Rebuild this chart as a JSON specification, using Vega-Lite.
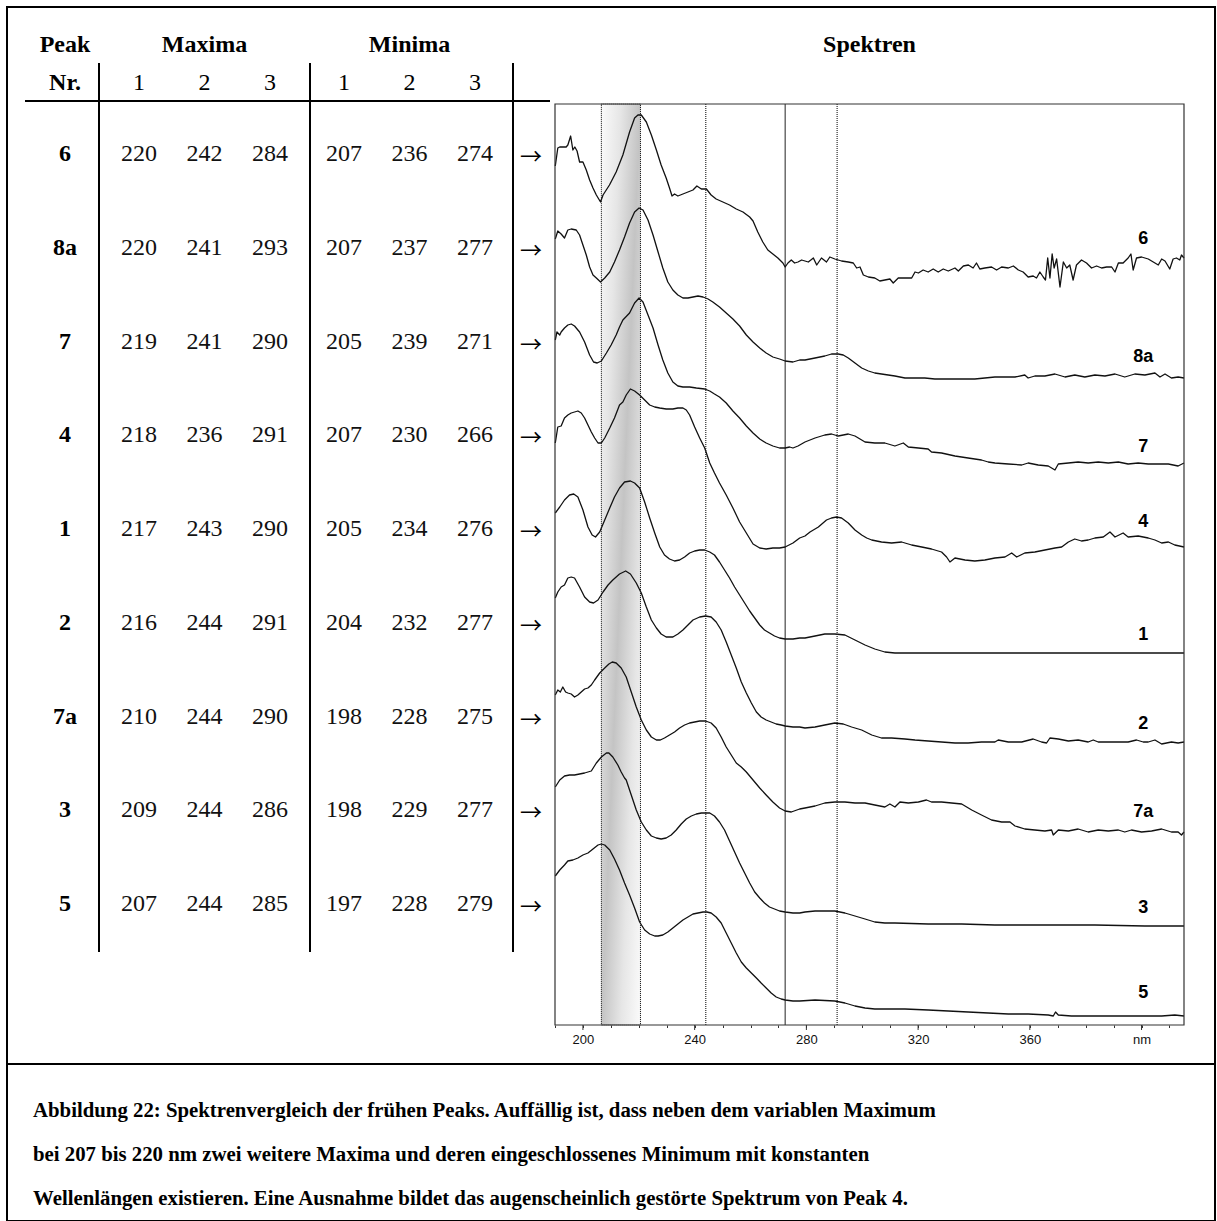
{
  "$schema": "https://vega.github.io/schema/vega-lite/v6.json",
  "width": 1208,
  "height": 1214,
  "autosize": "none",
  "padding": {"left": 7, "top": 7, "right": 2, "bottom": 0},
  "background": "white",
  "config": {"view": {"stroke": "#000", "strokeWidth": 2}, "font": "Liberation Serif"},
  "datasets": {
    "spectra": [
      {"peak":"6","nm":190.1,"A":859},{"peak":"6","nm":191.0,"A":877},{"peak":"6","nm":191.7,"A":878},{"peak":"6","nm":194.0,"A":878},{"peak":"6","nm":194.6,"A":880},{"peak":"6","nm":195.6,"A":889},{"peak":"6","nm":196.4,"A":875},{"peak":"6","nm":197.1,"A":878},{"peak":"6","nm":197.9,"A":874},{"peak":"6","nm":198.8,"A":863},{"peak":"6","nm":200.0,"A":863},{"peak":"6","nm":201.2,"A":855},{"peak":"6","nm":202.4,"A":845},{"peak":"6","nm":203.6,"A":837},{"peak":"6","nm":204.8,"A":830},{"peak":"6","nm":206.3,"A":823},{"peak":"6","nm":207.2,"A":830},{"peak":"6","nm":209.5,"A":840},{"peak":"6","nm":211.9,"A":853},{"peak":"6","nm":214.3,"A":870},{"peak":"6","nm":216.7,"A":893},{"peak":"6","nm":218.5,"A":907},{"peak":"6","nm":219.7,"A":910},{"peak":"6","nm":220.9,"A":910},{"peak":"6","nm":222.7,"A":903},{"peak":"6","nm":224.5,"A":890},{"peak":"6","nm":226.3,"A":875},{"peak":"6","nm":228.0,"A":860},{"peak":"6","nm":229.8,"A":847},{"peak":"6","nm":231.0,"A":837},{"peak":"6","nm":231.9,"A":829},{"peak":"6","nm":232.8,"A":831},{"peak":"6","nm":234.0,"A":829},{"peak":"6","nm":235.8,"A":831},{"peak":"6","nm":237.6,"A":833},{"peak":"6","nm":239.4,"A":835},{"peak":"6","nm":240.8,"A":839},{"peak":"6","nm":242.4,"A":836},{"peak":"6","nm":244.2,"A":836},{"peak":"6","nm":245.9,"A":830},{"peak":"6","nm":247.7,"A":826},{"peak":"6","nm":250.1,"A":823},{"peak":"6","nm":252.5,"A":820},{"peak":"6","nm":254.9,"A":816},{"peak":"6","nm":257.3,"A":813},{"peak":"6","nm":259.7,"A":808},{"peak":"6","nm":260.9,"A":804},{"peak":"6","nm":262.6,"A":793},{"peak":"6","nm":264.4,"A":783},{"peak":"6","nm":266.2,"A":775},{"peak":"6","nm":268.0,"A":771},{"peak":"6","nm":269.8,"A":767},{"peak":"6","nm":271.6,"A":762},{"peak":"6","nm":272.4,"A":758},{"peak":"6","nm":273.4,"A":762},{"peak":"6","nm":274.6,"A":765},{"peak":"6","nm":275.8,"A":762},{"peak":"6","nm":277.0,"A":763},
      {"peak":"6","nm":278.3,"A":765},{"peak":"6","nm":280.7,"A":763},{"peak":"6","nm":282.5,"A":767},{"peak":"6","nm":283.7,"A":760},{"peak":"6","nm":285.4,"A":767},{"peak":"6","nm":287.2,"A":763},{"peak":"6","nm":288.4,"A":768},{"peak":"6","nm":290.2,"A":766},{"peak":"6","nm":292.6,"A":764},{"peak":"6","nm":295.0,"A":763},{"peak":"6","nm":296.8,"A":762},{"peak":"6","nm":298.0,"A":757},{"peak":"6","nm":299.2,"A":758},{"peak":"6","nm":300.4,"A":750},{"peak":"6","nm":302.2,"A":748},{"peak":"6","nm":304.5,"A":747},{"peak":"6","nm":306.3,"A":744},{"peak":"6","nm":308.1,"A":745},{"peak":"6","nm":309.9,"A":746},{"peak":"6","nm":311.1,"A":742},{"peak":"6","nm":312.9,"A":747},{"peak":"6","nm":315.3,"A":747},{"peak":"6","nm":317.7,"A":747},{"peak":"6","nm":318.9,"A":753},{"peak":"6","nm":320.1,"A":752},{"peak":"6","nm":321.8,"A":755},{"peak":"6","nm":323.6,"A":753},{"peak":"6","nm":325.4,"A":756},{"peak":"6","nm":327.2,"A":753},{"peak":"6","nm":329.0,"A":756},{"peak":"6","nm":330.8,"A":754},{"peak":"6","nm":333.2,"A":757},{"peak":"6","nm":334.4,"A":754},{"peak":"6","nm":336.2,"A":759},{"peak":"6","nm":338.0,"A":760},{"peak":"6","nm":339.7,"A":757},{"peak":"6","nm":340.9,"A":762},{"peak":"6","nm":342.1,"A":756},{"peak":"6","nm":343.9,"A":757},{"peak":"6","nm":346.3,"A":758},{"peak":"6","nm":348.1,"A":755},{"peak":"6","nm":349.9,"A":758},{"peak":"6","nm":352.3,"A":757},{"peak":"6","nm":354.1,"A":759},{"peak":"6","nm":355.9,"A":755},{"peak":"6","nm":357.6,"A":753},{"peak":"6","nm":359.4,"A":748},{"peak":"6","nm":361.2,"A":749},{"peak":"6","nm":362.4,"A":747},{"peak":"6","nm":363.6,"A":753},{"peak":"6","nm":364.8,"A":748},{"peak":"6","nm":365.6,"A":745},{"peak":"6","nm":366.4,"A":767},{"peak":"6","nm":367.2,"A":747},{"peak":"6","nm":368.0,"A":771},{"peak":"6","nm":368.7,"A":757},{"peak":"6","nm":369.6,"A":766},{"peak":"6","nm":370.8,"A":738},{"peak":"6","nm":372.0,"A":763},{"peak":"6","nm":373.2,"A":757},{"peak":"6","nm":374.3,"A":760},{"peak":"6","nm":375.5,"A":745},{"peak":"6","nm":376.7,"A":760},{"peak":"6","nm":378.5,"A":765},{"peak":"6","nm":380.3,"A":762},{"peak":"6","nm":382.1,"A":757},{"peak":"6","nm":383.9,"A":759},{"peak":"6","nm":385.7,"A":757},{"peak":"6","nm":387.5,"A":758},{"peak":"6","nm":389.3,"A":758},{"peak":"6","nm":390.5,"A":753},{"peak":"6","nm":391.7,"A":762},{"peak":"6","nm":393.4,"A":762},{"peak":"6","nm":395.2,"A":767},{"peak":"6","nm":396.2,"A":771},{"peak":"6","nm":397.0,"A":755},{"peak":"6","nm":398.2,"A":767},{"peak":"6","nm":400.0,"A":768},{"peak":"6","nm":402.4,"A":766},{"peak":"6","nm":404.2,"A":763},{"peak":"6","nm":406.0,"A":760},{"peak":"6","nm":407.2,"A":766},{"peak":"6","nm":408.4,"A":764},{"peak":"6","nm":410.1,"A":756},{"peak":"6","nm":411.3,"A":766},{"peak":"6","nm":412.5,"A":767},{"peak":"6","nm":413.7,"A":765},{"peak":"6","nm":414.3,"A":770},{"peak":"6","nm":415.2,"A":767},

      {"peak":"8a","nm":190.1,"A":786},{"peak":"8a","nm":191.0,"A":794},{"peak":"8a","nm":192.2,"A":791},{"peak":"8a","nm":193.4,"A":787},{"peak":"8a","nm":194.6,"A":795},{"peak":"8a","nm":195.8,"A":796},{"peak":"8a","nm":197.6,"A":795},{"peak":"8a","nm":198.8,"A":790},{"peak":"8a","nm":200.0,"A":780},{"peak":"8a","nm":201.2,"A":770},{"peak":"8a","nm":202.4,"A":758},{"peak":"8a","nm":203.6,"A":750},{"peak":"8a","nm":204.8,"A":747},{"peak":"8a","nm":206.3,"A":743},{"peak":"8a","nm":207.8,"A":747},{"peak":"8a","nm":209.6,"A":753},{"peak":"8a","nm":211.3,"A":763},{"peak":"8a","nm":213.1,"A":775},{"peak":"8a","nm":214.9,"A":788},{"peak":"8a","nm":216.7,"A":802},{"peak":"8a","nm":218.5,"A":813},{"peak":"8a","nm":220.1,"A":817},{"peak":"8a","nm":221.5,"A":815},{"peak":"8a","nm":223.3,"A":805},{"peak":"8a","nm":225.1,"A":790},{"peak":"8a","nm":226.9,"A":773},{"peak":"8a","nm":228.6,"A":757},{"peak":"8a","nm":230.4,"A":743},{"peak":"8a","nm":232.2,"A":735},{"peak":"8a","nm":234.0,"A":730},{"peak":"8a","nm":235.8,"A":727},{"peak":"8a","nm":237.6,"A":727},{"peak":"8a","nm":239.4,"A":728},{"peak":"8a","nm":241.2,"A":729},{"peak":"8a","nm":243.0,"A":728},{"peak":"8a","nm":244.8,"A":726},{"peak":"8a","nm":246.5,"A":723},{"peak":"8a","nm":248.9,"A":718},{"peak":"8a","nm":251.3,"A":712},{"peak":"8a","nm":253.7,"A":706},{"peak":"8a","nm":256.1,"A":699},{"peak":"8a","nm":258.5,"A":690},{"peak":"8a","nm":260.9,"A":683},{"peak":"8a","nm":263.3,"A":677},{"peak":"8a","nm":265.6,"A":672},{"peak":"8a","nm":268.0,"A":668},{"peak":"8a","nm":270.4,"A":666},{"peak":"8a","nm":272.4,"A":664},{"peak":"8a","nm":275.2,"A":663},{"peak":"8a","nm":277.6,"A":665},
      {"peak":"8a","nm":279.5,"A":665},{"peak":"8a","nm":283.1,"A":667},{"peak":"8a","nm":286.6,"A":669},{"peak":"8a","nm":289.0,"A":671},{"peak":"8a","nm":291.4,"A":671},{"peak":"8a","nm":293.2,"A":670},{"peak":"8a","nm":295.0,"A":667},{"peak":"8a","nm":297.4,"A":662},{"peak":"8a","nm":299.8,"A":657},{"peak":"8a","nm":302.2,"A":654},{"peak":"8a","nm":304.5,"A":652},{"peak":"8a","nm":306.9,"A":651},{"peak":"8a","nm":309.3,"A":650},{"peak":"8a","nm":311.7,"A":649},{"peak":"8a","nm":315.3,"A":647},{"peak":"8a","nm":318.9,"A":647},{"peak":"8a","nm":322.4,"A":647},{"peak":"8a","nm":326.0,"A":646},{"peak":"8a","nm":329.6,"A":646},{"peak":"8a","nm":333.2,"A":646},{"peak":"8a","nm":336.8,"A":646},{"peak":"8a","nm":340.3,"A":646},{"peak":"8a","nm":343.9,"A":647},{"peak":"8a","nm":347.5,"A":648},{"peak":"8a","nm":351.1,"A":648},{"peak":"8a","nm":354.7,"A":648},{"peak":"8a","nm":358.2,"A":650},{"peak":"8a","nm":359.4,"A":647},{"peak":"8a","nm":361.8,"A":649},{"peak":"8a","nm":365.4,"A":649},{"peak":"8a","nm":369.0,"A":651},{"peak":"8a","nm":372.6,"A":648},{"peak":"8a","nm":376.1,"A":650},{"peak":"8a","nm":379.7,"A":648},{"peak":"8a","nm":383.3,"A":650},{"peak":"8a","nm":386.9,"A":649},{"peak":"8a","nm":390.5,"A":651},{"peak":"8a","nm":394.0,"A":648},{"peak":"8a","nm":397.6,"A":651},{"peak":"8a","nm":401.2,"A":650},{"peak":"8a","nm":404.8,"A":652},{"peak":"8a","nm":406.6,"A":648},{"peak":"8a","nm":408.4,"A":651},{"peak":"8a","nm":410.7,"A":647},{"peak":"8a","nm":413.1,"A":648},{"peak":"8a","nm":415.2,"A":647},

      {"peak":"7","nm":190.1,"A":685},{"peak":"7","nm":190.7,"A":693},{"peak":"7","nm":191.7,"A":690},{"peak":"7","nm":192.2,"A":693},{"peak":"7","nm":193.4,"A":697},{"peak":"7","nm":194.6,"A":700},{"peak":"7","nm":195.8,"A":701},{"peak":"7","nm":197.0,"A":699},{"peak":"7","nm":198.8,"A":693},{"peak":"7","nm":200.6,"A":683},{"peak":"7","nm":202.4,"A":670},{"peak":"7","nm":203.8,"A":663},{"peak":"7","nm":205.1,"A":662},{"peak":"7","nm":206.6,"A":664},{"peak":"7","nm":208.4,"A":672},{"peak":"7","nm":210.1,"A":680},{"peak":"7","nm":211.9,"A":690},{"peak":"7","nm":213.1,"A":698},{"peak":"7","nm":214.3,"A":705},{"peak":"7","nm":216.7,"A":712},{"peak":"7","nm":218.5,"A":722},{"peak":"7","nm":220.1,"A":727},{"peak":"7","nm":221.5,"A":723},{"peak":"7","nm":223.3,"A":710},{"peak":"7","nm":225.1,"A":697},{"peak":"7","nm":226.9,"A":680},{"peak":"7","nm":228.6,"A":665},{"peak":"7","nm":230.4,"A":652},{"peak":"7","nm":232.2,"A":643},{"peak":"7","nm":234.0,"A":639},{"peak":"7","nm":235.8,"A":638},{"peak":"7","nm":238.2,"A":638},{"peak":"7","nm":240.6,"A":637},{"peak":"7","nm":243.6,"A":636},{"peak":"7","nm":245.4,"A":634},{"peak":"7","nm":247.1,"A":631},{"peak":"7","nm":248.9,"A":628},{"peak":"7","nm":251.3,"A":622},{"peak":"7","nm":253.7,"A":614},{"peak":"7","nm":256.1,"A":607},{"peak":"7","nm":258.5,"A":599},{"peak":"7","nm":260.9,"A":592},{"peak":"7","nm":263.3,"A":586},{"peak":"7","nm":265.6,"A":582},{"peak":"7","nm":268.0,"A":579},{"peak":"7","nm":270.4,"A":577},{"peak":"7","nm":272.4,"A":577},{"peak":"7","nm":274.0,"A":578},{"peak":"7","nm":275.2,"A":577},{"peak":"7","nm":277.0,"A":579},
      {"peak":"7","nm":279.5,"A":583},{"peak":"7","nm":283.1,"A":587},{"peak":"7","nm":286.6,"A":590},{"peak":"7","nm":289.0,"A":591},{"peak":"7","nm":291.4,"A":589},{"peak":"7","nm":295.0,"A":591},{"peak":"7","nm":297.4,"A":589},{"peak":"7","nm":301.0,"A":583},{"peak":"7","nm":304.5,"A":582},{"peak":"7","nm":308.1,"A":582},{"peak":"7","nm":311.7,"A":579},{"peak":"7","nm":314.7,"A":582},{"peak":"7","nm":316.5,"A":578},{"peak":"7","nm":320.1,"A":577},{"peak":"7","nm":323.6,"A":576},{"peak":"7","nm":324.8,"A":573},{"peak":"7","nm":328.4,"A":572},{"peak":"7","nm":333.2,"A":569},{"peak":"7","nm":337.9,"A":567},{"peak":"7","nm":342.7,"A":565},{"peak":"7","nm":345.1,"A":563},{"peak":"7","nm":347.5,"A":562},{"peak":"7","nm":352.3,"A":561},{"peak":"7","nm":357.1,"A":560},{"peak":"7","nm":359.4,"A":562},{"peak":"7","nm":363.0,"A":560},{"peak":"7","nm":366.6,"A":559},{"peak":"7","nm":369.0,"A":555},{"peak":"7","nm":370.2,"A":561},{"peak":"7","nm":373.8,"A":562},{"peak":"7","nm":377.3,"A":563},{"peak":"7","nm":380.9,"A":562},{"peak":"7","nm":384.5,"A":563},{"peak":"7","nm":388.1,"A":562},{"peak":"7","nm":391.7,"A":563},{"peak":"7","nm":395.2,"A":561},{"peak":"7","nm":398.8,"A":562},{"peak":"7","nm":402.4,"A":561},{"peak":"7","nm":406.0,"A":561},{"peak":"7","nm":409.6,"A":561},{"peak":"7","nm":413.1,"A":559},{"peak":"7","nm":415.2,"A":562},

      {"peak":"4","nm":190.1,"A":582},{"peak":"4","nm":191.0,"A":598},{"peak":"4","nm":192.2,"A":599},{"peak":"4","nm":193.4,"A":607},{"peak":"4","nm":194.6,"A":610},{"peak":"4","nm":195.8,"A":612},{"peak":"4","nm":197.0,"A":613},{"peak":"4","nm":198.2,"A":614},{"peak":"4","nm":199.4,"A":612},{"peak":"4","nm":200.6,"A":607},{"peak":"4","nm":201.8,"A":600},{"peak":"4","nm":203.0,"A":593},{"peak":"4","nm":204.2,"A":587},{"peak":"4","nm":205.4,"A":582},{"peak":"4","nm":206.6,"A":582},{"peak":"4","nm":207.8,"A":587},{"peak":"4","nm":209.6,"A":597},{"peak":"4","nm":211.3,"A":607},{"peak":"4","nm":213.1,"A":620},{"peak":"4","nm":214.3,"A":623},{"peak":"4","nm":215.5,"A":630},{"peak":"4","nm":217.0,"A":636},{"peak":"4","nm":218.5,"A":634},{"peak":"4","nm":220.3,"A":630},{"peak":"4","nm":222.1,"A":625},{"peak":"4","nm":223.9,"A":620},{"peak":"4","nm":225.7,"A":618},{"peak":"4","nm":227.5,"A":617},{"peak":"4","nm":229.8,"A":616},{"peak":"4","nm":232.2,"A":616},{"peak":"4","nm":234.0,"A":617},{"peak":"4","nm":235.8,"A":617},{"peak":"4","nm":237.0,"A":615},{"peak":"4","nm":238.2,"A":610},{"peak":"4","nm":240.0,"A":598},{"peak":"4","nm":241.8,"A":587},{"peak":"4","nm":243.6,"A":577},{"peak":"4","nm":245.4,"A":562},{"peak":"4","nm":247.1,"A":552},{"peak":"4","nm":248.9,"A":542},{"peak":"4","nm":251.3,"A":530},{"peak":"4","nm":253.7,"A":517},{"peak":"4","nm":256.1,"A":503},{"peak":"4","nm":258.5,"A":492},{"peak":"4","nm":260.9,"A":481},{"peak":"4","nm":263.3,"A":477},{"peak":"4","nm":265.6,"A":476},{"peak":"4","nm":268.0,"A":477},{"peak":"4","nm":270.4,"A":477},{"peak":"4","nm":272.4,"A":478},{"peak":"4","nm":275.2,"A":482},{"peak":"4","nm":277.6,"A":487},
      {"peak":"4","nm":279.5,"A":489},{"peak":"4","nm":281.3,"A":493},{"peak":"4","nm":284.3,"A":498},{"peak":"4","nm":287.2,"A":505},{"peak":"4","nm":289.0,"A":507},{"peak":"4","nm":290.8,"A":508},{"peak":"4","nm":292.6,"A":507},{"peak":"4","nm":295.0,"A":502},{"peak":"4","nm":297.4,"A":495},{"peak":"4","nm":299.8,"A":490},{"peak":"4","nm":301.6,"A":487},{"peak":"4","nm":303.4,"A":485},{"peak":"4","nm":306.9,"A":483},{"peak":"4","nm":310.5,"A":482},{"peak":"4","nm":314.1,"A":483},{"peak":"4","nm":317.7,"A":480},{"peak":"4","nm":321.3,"A":478},{"peak":"4","nm":324.8,"A":476},{"peak":"4","nm":328.4,"A":473},{"peak":"4","nm":330.2,"A":468},{"peak":"4","nm":331.4,"A":463},{"peak":"4","nm":333.2,"A":467},{"peak":"4","nm":336.8,"A":465},{"peak":"4","nm":340.3,"A":464},{"peak":"4","nm":343.9,"A":465},{"peak":"4","nm":347.5,"A":467},{"peak":"4","nm":351.1,"A":468},{"peak":"4","nm":353.5,"A":472},{"peak":"4","nm":355.3,"A":468},{"peak":"4","nm":358.2,"A":472},{"peak":"4","nm":361.8,"A":473},{"peak":"4","nm":365.4,"A":475},{"peak":"4","nm":369.0,"A":477},{"peak":"4","nm":371.4,"A":478},{"peak":"4","nm":373.8,"A":483},{"peak":"4","nm":376.1,"A":486},{"peak":"4","nm":378.5,"A":484},{"peak":"4","nm":380.9,"A":485},{"peak":"4","nm":383.3,"A":487},{"peak":"4","nm":386.3,"A":488},{"peak":"4","nm":388.7,"A":493},{"peak":"4","nm":390.5,"A":488},{"peak":"4","nm":393.4,"A":492},{"peak":"4","nm":395.2,"A":488},{"peak":"4","nm":398.8,"A":489},{"peak":"4","nm":402.4,"A":487},{"peak":"4","nm":404.8,"A":485},{"peak":"4","nm":407.2,"A":482},{"peak":"4","nm":409.6,"A":483},{"peak":"4","nm":411.9,"A":480},{"peak":"4","nm":415.2,"A":478},

      {"peak":"1","nm":190.1,"A":512},{"peak":"1","nm":191.7,"A":518},{"peak":"1","nm":193.4,"A":525},{"peak":"1","nm":195.2,"A":530},{"peak":"1","nm":196.7,"A":531},{"peak":"1","nm":198.2,"A":528},{"peak":"1","nm":200.0,"A":515},{"peak":"1","nm":201.8,"A":498},{"peak":"1","nm":203.3,"A":490},{"peak":"1","nm":204.5,"A":488},{"peak":"1","nm":206.0,"A":493},{"peak":"1","nm":207.8,"A":505},{"peak":"1","nm":209.6,"A":517},{"peak":"1","nm":211.3,"A":528},{"peak":"1","nm":213.1,"A":537},{"peak":"1","nm":214.9,"A":543},{"peak":"1","nm":217.0,"A":544},{"peak":"1","nm":218.5,"A":542},{"peak":"1","nm":220.3,"A":537},{"peak":"1","nm":222.1,"A":523},{"peak":"1","nm":223.9,"A":507},{"peak":"1","nm":225.7,"A":492},{"peak":"1","nm":227.5,"A":478},{"peak":"1","nm":229.2,"A":470},{"peak":"1","nm":231.0,"A":466},{"peak":"1","nm":232.8,"A":464},{"peak":"1","nm":234.6,"A":465},{"peak":"1","nm":236.4,"A":468},{"peak":"1","nm":238.2,"A":472},{"peak":"1","nm":240.0,"A":474},{"peak":"1","nm":241.8,"A":475},{"peak":"1","nm":243.6,"A":475},{"peak":"1","nm":245.4,"A":473},{"peak":"1","nm":247.1,"A":470},{"peak":"1","nm":248.9,"A":463},{"peak":"1","nm":250.7,"A":455},{"peak":"1","nm":252.5,"A":447},{"peak":"1","nm":254.3,"A":438},{"peak":"1","nm":256.1,"A":430},{"peak":"1","nm":257.9,"A":422},{"peak":"1","nm":259.7,"A":414},{"peak":"1","nm":261.5,"A":407},{"peak":"1","nm":263.3,"A":400},{"peak":"1","nm":265.0,"A":395},{"peak":"1","nm":266.8,"A":392},{"peak":"1","nm":268.6,"A":389},{"peak":"1","nm":270.4,"A":387},{"peak":"1","nm":272.4,"A":386},{"peak":"1","nm":275.2,"A":386},{"peak":"1","nm":277.6,"A":387},
      {"peak":"1","nm":279.5,"A":387},{"peak":"1","nm":283.1,"A":389},{"peak":"1","nm":286.6,"A":391},{"peak":"1","nm":290.2,"A":391},{"peak":"1","nm":293.8,"A":390},{"peak":"1","nm":297.4,"A":385},{"peak":"1","nm":301.0,"A":380},{"peak":"1","nm":304.5,"A":376},{"peak":"1","nm":308.1,"A":373},{"peak":"1","nm":311.7,"A":372},{"peak":"1","nm":318.9,"A":372},{"peak":"1","nm":335.6,"A":372},{"peak":"1","nm":359.4,"A":372},{"peak":"1","nm":383.3,"A":372},{"peak":"1","nm":415.2,"A":372},

      {"peak":"2","nm":190.1,"A":427},{"peak":"2","nm":191.0,"A":433},{"peak":"2","nm":192.2,"A":438},{"peak":"2","nm":193.4,"A":440},{"peak":"2","nm":194.6,"A":447},{"peak":"2","nm":195.8,"A":448},{"peak":"2","nm":197.0,"A":447},{"peak":"2","nm":198.8,"A":438},{"peak":"2","nm":200.6,"A":428},{"peak":"2","nm":202.4,"A":423},{"peak":"2","nm":203.8,"A":422},{"peak":"2","nm":205.4,"A":425},{"peak":"2","nm":207.2,"A":433},{"peak":"2","nm":209.0,"A":440},{"peak":"2","nm":210.7,"A":445},{"peak":"2","nm":213.1,"A":451},{"peak":"2","nm":215.3,"A":454},{"peak":"2","nm":217.0,"A":451},{"peak":"2","nm":219.1,"A":442},{"peak":"2","nm":220.9,"A":432},{"peak":"2","nm":222.7,"A":418},{"peak":"2","nm":224.5,"A":405},{"peak":"2","nm":226.3,"A":397},{"peak":"2","nm":228.0,"A":391},{"peak":"2","nm":229.8,"A":388},{"peak":"2","nm":232.2,"A":388},{"peak":"2","nm":234.0,"A":391},{"peak":"2","nm":235.8,"A":395},{"peak":"2","nm":237.6,"A":400},{"peak":"2","nm":239.4,"A":405},{"peak":"2","nm":241.8,"A":408},{"peak":"2","nm":243.9,"A":409},{"peak":"2","nm":245.9,"A":408},{"peak":"2","nm":247.7,"A":403},{"peak":"2","nm":249.5,"A":395},{"peak":"2","nm":251.3,"A":383},{"peak":"2","nm":253.1,"A":370},{"peak":"2","nm":254.9,"A":357},{"peak":"2","nm":256.7,"A":343},{"peak":"2","nm":258.5,"A":332},{"peak":"2","nm":260.3,"A":322},{"peak":"2","nm":262.1,"A":313},{"peak":"2","nm":263.8,"A":308},{"peak":"2","nm":265.6,"A":305},{"peak":"2","nm":267.4,"A":303},{"peak":"2","nm":269.2,"A":301},{"peak":"2","nm":271.0,"A":300},{"peak":"2","nm":272.4,"A":299},{"peak":"2","nm":275.2,"A":298},{"peak":"2","nm":277.6,"A":298},
      {"peak":"2","nm":279.5,"A":297},{"peak":"2","nm":283.1,"A":298},{"peak":"2","nm":286.6,"A":300},{"peak":"2","nm":290.2,"A":302},{"peak":"2","nm":293.2,"A":301},{"peak":"2","nm":296.2,"A":298},{"peak":"2","nm":299.8,"A":295},{"peak":"2","nm":303.4,"A":290},{"peak":"2","nm":306.9,"A":287},{"peak":"2","nm":310.5,"A":287},{"peak":"2","nm":315.3,"A":286},{"peak":"2","nm":318.9,"A":285},{"peak":"2","nm":323.6,"A":284},{"peak":"2","nm":328.4,"A":283},{"peak":"2","nm":333.2,"A":282},{"peak":"2","nm":337.9,"A":282},{"peak":"2","nm":342.7,"A":283},{"peak":"2","nm":347.5,"A":283},{"peak":"2","nm":348.7,"A":285},{"peak":"2","nm":352.3,"A":283},{"peak":"2","nm":357.1,"A":283},{"peak":"2","nm":361.2,"A":286},{"peak":"2","nm":364.2,"A":283},{"peak":"2","nm":366.0,"A":282},{"peak":"2","nm":367.2,"A":287},{"peak":"2","nm":370.2,"A":286},{"peak":"2","nm":373.8,"A":284},{"peak":"2","nm":377.3,"A":285},{"peak":"2","nm":380.9,"A":283},{"peak":"2","nm":382.7,"A":285},{"peak":"2","nm":384.5,"A":283},{"peak":"2","nm":388.1,"A":283},{"peak":"2","nm":391.7,"A":283},{"peak":"2","nm":395.2,"A":283},{"peak":"2","nm":398.2,"A":285},{"peak":"2","nm":400.6,"A":283},{"peak":"2","nm":402.4,"A":283},{"peak":"2","nm":404.8,"A":285},{"peak":"2","nm":407.2,"A":281},{"peak":"2","nm":410.7,"A":283},{"peak":"2","nm":413.1,"A":282},{"peak":"2","nm":415.2,"A":283},

      {"peak":"7a","nm":190.1,"A":330},{"peak":"7a","nm":191.0,"A":335},{"peak":"7a","nm":191.9,"A":333},{"peak":"7a","nm":192.8,"A":338},{"peak":"7a","nm":193.8,"A":333},{"peak":"7a","nm":194.6,"A":332},{"peak":"7a","nm":195.8,"A":331},{"peak":"7a","nm":197.0,"A":328},{"peak":"7a","nm":198.2,"A":330},{"peak":"7a","nm":199.4,"A":333},{"peak":"7a","nm":200.6,"A":336},{"peak":"7a","nm":201.8,"A":337},{"peak":"7a","nm":203.0,"A":340},{"peak":"7a","nm":204.2,"A":345},{"peak":"7a","nm":206.0,"A":352},{"peak":"7a","nm":207.8,"A":357},{"peak":"7a","nm":209.3,"A":361},{"peak":"7a","nm":210.5,"A":363},{"peak":"7a","nm":211.9,"A":362},{"peak":"7a","nm":213.7,"A":357},{"peak":"7a","nm":215.5,"A":348},{"peak":"7a","nm":217.3,"A":333},{"peak":"7a","nm":219.1,"A":318},{"peak":"7a","nm":220.9,"A":305},{"peak":"7a","nm":222.7,"A":295},{"peak":"7a","nm":224.5,"A":288},{"peak":"7a","nm":226.3,"A":285},{"peak":"7a","nm":227.7,"A":285},{"peak":"7a","nm":229.2,"A":287},{"peak":"7a","nm":231.0,"A":290},{"peak":"7a","nm":232.8,"A":293},{"peak":"7a","nm":234.6,"A":297},{"peak":"7a","nm":236.4,"A":300},{"peak":"7a","nm":238.2,"A":302},{"peak":"7a","nm":240.0,"A":303},{"peak":"7a","nm":241.8,"A":304},{"peak":"7a","nm":243.9,"A":304},{"peak":"7a","nm":245.9,"A":302},{"peak":"7a","nm":247.7,"A":297},{"peak":"7a","nm":249.5,"A":288},{"peak":"7a","nm":251.3,"A":278},{"peak":"7a","nm":253.1,"A":270},{"peak":"7a","nm":254.9,"A":262},{"peak":"7a","nm":256.7,"A":258},{"peak":"7a","nm":258.5,"A":253},{"peak":"7a","nm":260.9,"A":245},{"peak":"7a","nm":263.3,"A":237},{"peak":"7a","nm":265.6,"A":230},{"peak":"7a","nm":268.0,"A":223},{"peak":"7a","nm":270.4,"A":217},{"peak":"7a","nm":272.4,"A":214},{"peak":"7a","nm":274.6,"A":213},{"peak":"7a","nm":277.6,"A":216},
      {"peak":"7a","nm":279.5,"A":217},{"peak":"7a","nm":283.1,"A":219},{"peak":"7a","nm":286.6,"A":222},{"peak":"7a","nm":290.2,"A":223},{"peak":"7a","nm":293.8,"A":223},{"peak":"7a","nm":297.4,"A":222},{"peak":"7a","nm":301.0,"A":222},{"peak":"7a","nm":304.5,"A":220},{"peak":"7a","nm":308.1,"A":218},{"peak":"7a","nm":309.9,"A":221},{"peak":"7a","nm":311.7,"A":218},{"peak":"7a","nm":313.5,"A":223},{"peak":"7a","nm":316.5,"A":222},{"peak":"7a","nm":320.1,"A":223},{"peak":"7a","nm":323.0,"A":225},{"peak":"7a","nm":324.8,"A":223},{"peak":"7a","nm":328.4,"A":223},{"peak":"7a","nm":332.0,"A":222},{"peak":"7a","nm":335.6,"A":221},{"peak":"7a","nm":339.2,"A":215},{"peak":"7a","nm":342.7,"A":210},{"peak":"7a","nm":346.3,"A":205},{"peak":"7a","nm":349.9,"A":203},{"peak":"7a","nm":352.9,"A":203},{"peak":"7a","nm":354.7,"A":199},{"peak":"7a","nm":358.2,"A":196},{"peak":"7a","nm":361.8,"A":195},{"peak":"7a","nm":365.4,"A":194},{"peak":"7a","nm":367.8,"A":195},{"peak":"7a","nm":368.4,"A":190},{"peak":"7a","nm":370.2,"A":195},{"peak":"7a","nm":373.8,"A":194},{"peak":"7a","nm":377.3,"A":196},{"peak":"7a","nm":380.9,"A":193},{"peak":"7a","nm":384.5,"A":195},{"peak":"7a","nm":388.1,"A":194},{"peak":"7a","nm":391.7,"A":195},{"peak":"7a","nm":394.0,"A":193},{"peak":"7a","nm":396.4,"A":195},{"peak":"7a","nm":400.0,"A":193},{"peak":"7a","nm":403.6,"A":194},{"peak":"7a","nm":407.2,"A":196},{"peak":"7a","nm":410.7,"A":193},{"peak":"7a","nm":413.1,"A":193},{"peak":"7a","nm":414.3,"A":190},{"peak":"7a","nm":415.2,"A":193},

      {"peak":"3","nm":190.1,"A":238},{"peak":"3","nm":191.7,"A":245},{"peak":"3","nm":193.4,"A":249},{"peak":"3","nm":195.2,"A":250},{"peak":"3","nm":197.0,"A":250},{"peak":"3","nm":198.8,"A":251},{"peak":"3","nm":200.6,"A":252},{"peak":"3","nm":201.8,"A":253},{"peak":"3","nm":203.0,"A":254},{"peak":"3","nm":204.8,"A":262},{"peak":"3","nm":206.6,"A":268},{"peak":"3","nm":208.4,"A":272},{"peak":"3","nm":209.3,"A":272},{"peak":"3","nm":210.7,"A":268},{"peak":"3","nm":212.5,"A":260},{"peak":"3","nm":213.7,"A":253},{"peak":"3","nm":214.9,"A":247},{"peak":"3","nm":215.5,"A":245},{"peak":"3","nm":217.3,"A":230},{"peak":"3","nm":219.1,"A":215},{"peak":"3","nm":220.9,"A":203},{"peak":"3","nm":222.7,"A":195},{"peak":"3","nm":224.5,"A":189},{"peak":"3","nm":226.3,"A":187},{"peak":"3","nm":228.0,"A":186},{"peak":"3","nm":229.8,"A":187},{"peak":"3","nm":231.6,"A":190},{"peak":"3","nm":233.4,"A":195},{"peak":"3","nm":235.2,"A":201},{"peak":"3","nm":237.0,"A":206},{"peak":"3","nm":238.8,"A":209},{"peak":"3","nm":240.6,"A":211},{"peak":"3","nm":242.4,"A":212},{"peak":"3","nm":243.9,"A":212},{"peak":"3","nm":245.4,"A":212},{"peak":"3","nm":247.1,"A":209},{"peak":"3","nm":248.9,"A":203},{"peak":"3","nm":250.7,"A":195},{"peak":"3","nm":252.5,"A":184},{"peak":"3","nm":254.3,"A":173},{"peak":"3","nm":256.1,"A":162},{"peak":"3","nm":257.9,"A":152},{"peak":"3","nm":259.7,"A":142},{"peak":"3","nm":261.5,"A":133},{"peak":"3","nm":263.3,"A":127},{"peak":"3","nm":265.0,"A":122},{"peak":"3","nm":266.8,"A":118},{"peak":"3","nm":268.6,"A":116},{"peak":"3","nm":270.4,"A":114},{"peak":"3","nm":272.4,"A":113},{"peak":"3","nm":275.2,"A":112},{"peak":"3","nm":277.6,"A":112},
      {"peak":"3","nm":279.5,"A":113},{"peak":"3","nm":283.1,"A":114},{"peak":"3","nm":286.6,"A":114},{"peak":"3","nm":290.2,"A":114},{"peak":"3","nm":293.8,"A":112},{"peak":"3","nm":297.4,"A":109},{"peak":"3","nm":301.0,"A":106},{"peak":"3","nm":304.5,"A":103},{"peak":"3","nm":308.1,"A":102},{"peak":"3","nm":311.7,"A":102},{"peak":"3","nm":323.6,"A":101},{"peak":"3","nm":335.6,"A":101},{"peak":"3","nm":347.5,"A":100},{"peak":"3","nm":359.4,"A":100},{"peak":"3","nm":369.0,"A":100},{"peak":"3","nm":383.3,"A":100},{"peak":"3","nm":401.2,"A":99},{"peak":"3","nm":415.2,"A":99},

      {"peak":"5","nm":190.1,"A":149},{"peak":"5","nm":191.7,"A":155},{"peak":"5","nm":193.4,"A":160},{"peak":"5","nm":194.6,"A":164},{"peak":"5","nm":196.4,"A":165},{"peak":"5","nm":198.2,"A":167},{"peak":"5","nm":200.0,"A":170},{"peak":"5","nm":201.8,"A":172},{"peak":"5","nm":203.6,"A":176},{"peak":"5","nm":205.4,"A":180},{"peak":"5","nm":206.6,"A":181},{"peak":"5","nm":207.8,"A":180},{"peak":"5","nm":209.6,"A":175},{"peak":"5","nm":211.3,"A":166},{"peak":"5","nm":213.1,"A":155},{"peak":"5","nm":214.9,"A":142},{"peak":"5","nm":216.7,"A":130},{"peak":"5","nm":218.5,"A":117},{"peak":"5","nm":220.3,"A":103},{"peak":"5","nm":222.1,"A":95},{"peak":"5","nm":223.9,"A":91},{"peak":"5","nm":225.7,"A":89},{"peak":"5","nm":226.9,"A":89},{"peak":"5","nm":228.6,"A":90},{"peak":"5","nm":230.4,"A":93},{"peak":"5","nm":232.2,"A":97},{"peak":"5","nm":234.0,"A":101},{"peak":"5","nm":235.8,"A":105},{"peak":"5","nm":237.6,"A":108},{"peak":"5","nm":239.4,"A":111},{"peak":"5","nm":241.2,"A":112},{"peak":"5","nm":243.0,"A":113},{"peak":"5","nm":244.4,"A":113},{"peak":"5","nm":245.9,"A":112},{"peak":"5","nm":247.7,"A":108},{"peak":"5","nm":249.5,"A":102},{"peak":"5","nm":251.3,"A":92},{"peak":"5","nm":253.1,"A":82},{"peak":"5","nm":254.9,"A":72},{"peak":"5","nm":256.7,"A":63},{"peak":"5","nm":258.5,"A":57},{"peak":"5","nm":260.3,"A":52},{"peak":"5","nm":262.1,"A":47},{"peak":"5","nm":263.8,"A":42},{"peak":"5","nm":265.6,"A":37},{"peak":"5","nm":267.4,"A":32},{"peak":"5","nm":269.2,"A":28},{"peak":"5","nm":271.0,"A":26},{"peak":"5","nm":272.4,"A":25},{"peak":"5","nm":275.2,"A":24},{"peak":"5","nm":277.6,"A":24},
      {"peak":"5","nm":283.1,"A":25},{"peak":"5","nm":290.2,"A":24},{"peak":"5","nm":293.8,"A":22},{"peak":"5","nm":297.4,"A":19},{"peak":"5","nm":301.0,"A":17},{"peak":"5","nm":304.5,"A":16},{"peak":"5","nm":308.1,"A":16},{"peak":"5","nm":315.3,"A":16},{"peak":"5","nm":323.6,"A":15},{"peak":"5","nm":330.8,"A":14},{"peak":"5","nm":337.9,"A":13},{"peak":"5","nm":345.1,"A":12},{"peak":"5","nm":352.3,"A":11},{"peak":"5","nm":359.4,"A":11},{"peak":"5","nm":366.6,"A":10},{"peak":"5","nm":368.4,"A":9},{"peak":"5","nm":369.2,"A":13},{"peak":"5","nm":370.2,"A":10},{"peak":"5","nm":374.9,"A":9},{"peak":"5","nm":379.7,"A":9},{"peak":"5","nm":385.7,"A":9},{"peak":"5","nm":392.8,"A":9},{"peak":"5","nm":400.0,"A":9},{"peak":"5","nm":407.2,"A":9},{"peak":"5","nm":411.9,"A":10},{"peak":"5","nm":415.2,"A":9}
    ],
    "curveLabels": [
      {"peak":"6","nm":400.6,"A":786},{"peak":"8a","nm":400.6,"A":668},{"peak":"7","nm":400.6,"A":578},{"peak":"4","nm":400.6,"A":503},{"peak":"1","nm":400.6,"A":390},{"peak":"2","nm":400.6,"A":301},{"peak":"7a","nm":400.6,"A":213},{"peak":"3","nm":400.6,"A":117},{"peak":"5","nm":400.6,"A":32}
    ],
    "peaks": [
      {"row":0,"peak":"6"},{"row":1,"peak":"8a"},{"row":2,"peak":"7"},{"row":3,"peak":"4"},{"row":4,"peak":"1"},{"row":5,"peak":"2"},{"row":6,"peak":"7a"},{"row":7,"peak":"3"},{"row":8,"peak":"5"}
    ],
    "heads": [
      {"row":-2,"col":0,"txt":"Peak","level":"group"},{"row":-2,"col":2,"txt":"Maxima","level":"group"},{"row":-2,"col":5,"txt":"Minima","level":"group"},
      {"row":-1,"col":0,"txt":"Nr.","level":"group"},
      {"row":-1,"col":1,"txt":"1","level":"index"},{"row":-1,"col":2,"txt":"2","level":"index"},{"row":-1,"col":3,"txt":"3","level":"index"},
      {"row":-1,"col":4,"txt":"1","level":"index"},{"row":-1,"col":5,"txt":"2","level":"index"},{"row":-1,"col":6,"txt":"3","level":"index"}
    ],
    "values": [
      {"row":0,"col":1,"val":220},{"row":0,"col":2,"val":242},{"row":0,"col":3,"val":284},{"row":0,"col":4,"val":207},{"row":0,"col":5,"val":236},{"row":0,"col":6,"val":274},
      {"row":1,"col":1,"val":220},{"row":1,"col":2,"val":241},{"row":1,"col":3,"val":293},{"row":1,"col":4,"val":207},{"row":1,"col":5,"val":237},{"row":1,"col":6,"val":277},
      {"row":2,"col":1,"val":219},{"row":2,"col":2,"val":241},{"row":2,"col":3,"val":290},{"row":2,"col":4,"val":205},{"row":2,"col":5,"val":239},{"row":2,"col":6,"val":271},
      {"row":3,"col":1,"val":218},{"row":3,"col":2,"val":236},{"row":3,"col":3,"val":291},{"row":3,"col":4,"val":207},{"row":3,"col":5,"val":230},{"row":3,"col":6,"val":266},
      {"row":4,"col":1,"val":217},{"row":4,"col":2,"val":243},{"row":4,"col":3,"val":290},{"row":4,"col":4,"val":205},{"row":4,"col":5,"val":234},{"row":4,"col":6,"val":276},
      {"row":5,"col":1,"val":216},{"row":5,"col":2,"val":244},{"row":5,"col":3,"val":291},{"row":5,"col":4,"val":204},{"row":5,"col":5,"val":232},{"row":5,"col":6,"val":277},
      {"row":6,"col":1,"val":210},{"row":6,"col":2,"val":244},{"row":6,"col":3,"val":290},{"row":6,"col":4,"val":198},{"row":6,"col":5,"val":228},{"row":6,"col":6,"val":275},
      {"row":7,"col":1,"val":209},{"row":7,"col":2,"val":244},{"row":7,"col":3,"val":286},{"row":7,"col":4,"val":198},{"row":7,"col":5,"val":229},{"row":7,"col":6,"val":277},
      {"row":8,"col":1,"val":207},{"row":8,"col":2,"val":244},{"row":8,"col":3,"val":285},{"row":8,"col":4,"val":197},{"row":8,"col":5,"val":228},{"row":8,"col":6,"val":279}
    ],
    "separators": [{"col":0.5},{"col":3.5},{"col":6.5}],
    "caption": [
      {"line":1,"txt":"Abbildung 22: Spektrenvergleich der frühen Peaks. Auffällig ist, dass neben dem variablen Maximum"},
      {"line":2,"txt":"bei 207 bis 220 nm zwei weitere Maxima und deren eingeschlossenes Minimum mit konstanten"},
      {"line":3,"txt":"Wellenlängen existieren. Eine Ausnahme bildet das augenscheinlich gestörte Spektrum von Peak 4."}
    ]
  },
  "layer": [
    {
      "layer": [
        {
          "data": {"values": [{"lo": 206.6, "hi": 220.6}]},
          "mark": {"type": "rect", "fill": {"gradient": "linear", "x1": 0, "y1": 0, "x2": 1, "y2": 1, "stops": [{"offset": 0, "color": "#fbfbfb"}, {"offset": 0.25, "color": "#e6e6e6"}, {"offset": 0.5, "color": "#c4c4c4"}, {"offset": 0.75, "color": "#e6e6e6"}, {"offset": 1, "color": "#fbfbfb"}]}, "stroke": "#000", "strokeWidth": 1, "strokeDash": [1, 1]},
          "encoding": {
            "x": {"field": "lo", "type": "quantitative", "scale": {"type": "linear", "domain": [190, 415.2], "range": [548, 1177], "nice": false, "zero": false},
              "axis": {"values": [190,200,210,220,230,240,250,260,270,280,290,300,310,320,330,340,350,360,370,380,390,400,410], "labelExpr": "datum.value == 400 ? 'nm' : ((datum.value % 40 == 0 && datum.value < 400) ? datum.label : '')", "offset": -196, "tickSize": 2.5, "tickColor": "#333", "domain": false, "grid": false, "title": null, "labelFont": "Liberation Sans", "labelFontSize": 13, "labelColor": "#111", "labelPadding": 6, "labelOverlap": false, "labelFlush": false}},
            "x2": {"field": "hi"},
            "y": {"datum": 0, "type": "quantitative", "scale": {"type": "linear", "domain": [0, 921], "range": [1018, 97], "nice": false, "zero": false}, "axis": null},
            "y2": {"datum": 921}
          }
        },
        {
          "data": {"values": [{"nm": 244}, {"nm": 291}]},
          "mark": {"type": "rule", "stroke": "#000", "strokeWidth": 1, "strokeDash": [1, 1]},
          "encoding": {
            "x": {"field": "nm", "type": "quantitative"},
            "y": {"datum": 0, "type": "quantitative"},
            "y2": {"datum": 921}
          }
        },
        {
          "data": {"values": [{"nm": 272.4}]},
          "mark": {"type": "rule", "stroke": "#222", "strokeWidth": 1},
          "encoding": {
            "x": {"field": "nm", "type": "quantitative"},
            "y": {"datum": 0, "type": "quantitative"},
            "y2": {"datum": 921}
          }
        },
        {
          "data": {"values": [{"nm": 200}, {"nm": 240}, {"nm": 280}, {"nm": 320}, {"nm": 360}, {"nm": 400}]},
          "mark": {"type": "rule", "stroke": "#333", "strokeWidth": 1},
          "encoding": {
            "x": {"field": "nm", "type": "quantitative"},
            "y": {"datum": 0, "type": "quantitative"},
            "y2": {"datum": -5}
          }
        },
        {
          "data": {"name": "spectra"},
          "mark": {"type": "line", "stroke": "#111", "strokeWidth": 1.3, "strokeJoin": "round"},
          "encoding": {
            "x": {"field": "nm", "type": "quantitative"},
            "y": {"field": "A", "type": "quantitative"},
            "detail": {"field": "peak", "type": "nominal"}
          }
        },
        {
          "data": {"values": [{"lo": 190, "hi": 415.2}]},
          "mark": {"type": "rect", "filled": false, "stroke": "#333", "strokeWidth": 1.2},
          "encoding": {
            "x": {"field": "lo", "type": "quantitative"},
            "x2": {"field": "hi"},
            "y": {"datum": 0, "type": "quantitative"},
            "y2": {"datum": 921}
          }
        },
        {
          "data": {"name": "curveLabels"},
          "mark": {"type": "text", "font": "Liberation Sans", "fontWeight": "bold", "fontSize": 18, "align": "center", "baseline": "middle", "color": "#000"},
          "encoding": {
            "x": {"field": "nm", "type": "quantitative"},
            "y": {"field": "A", "type": "quantitative"},
            "text": {"field": "peak"}
          }
        },
        {
          "data": {"values": [{"title": "Spektren", "nm": 302.6, "A": 980}]},
          "mark": {"type": "text", "font": "Liberation Serif", "fontWeight": "bold", "fontSize": 24, "align": "center", "baseline": "middle", "color": "#000"},
          "encoding": {
            "x": {"field": "nm", "type": "quantitative"},
            "y": {"field": "A", "type": "quantitative"},
            "text": {"field": "title"}
          }
        }
      ]
    },
    {
      "layer": [
        {
          "data": {"name": "separators"},
          "mark": {"type": "rule", "stroke": "#000", "strokeWidth": 2},
          "encoding": {
            "x": {"field": "col", "type": "quantitative", "scale": {"type": "linear", "domain": [-1, 0, 0.5, 1, 3, 3.5, 4, 6, 6.5, 7, 7.5], "range": [18, 58, 92, 132, 263, 303, 337, 468, 506, 524, 543], "nice": false, "zero": false}, "axis": null},
            "y": {"datum": -1.5, "type": "quantitative", "scale": {"type": "linear", "domain": [-2, -1.5, -1, -0.5, 0, 8, 8.5], "range": [38, 56, 76, 94, 147, 897, 945], "nice": false, "zero": false}, "axis": null},
            "y2": {"datum": 8.5}
          }
        },
        {
          "data": {"values": [{"from": -1, "to": 7.5}]},
          "mark": {"type": "rule", "stroke": "#000", "strokeWidth": 2},
          "encoding": {
            "x": {"field": "from", "type": "quantitative"},
            "x2": {"field": "to"},
            "y": {"datum": -0.5, "type": "quantitative"}
          }
        },
        {
          "data": {"name": "heads"},
          "transform": [{"filter": "datum.level == 'group'"}],
          "mark": {"type": "text", "font": "Liberation Serif", "fontWeight": "bold", "fontSize": 24, "align": "center", "baseline": "middle", "color": "#000"},
          "encoding": {
            "x": {"field": "col", "type": "quantitative"},
            "y": {"field": "row", "type": "quantitative"},
            "text": {"field": "txt"}
          }
        },
        {
          "data": {"name": "heads"},
          "transform": [{"filter": "datum.level == 'index'"}],
          "mark": {"type": "text", "font": "Liberation Serif", "fontSize": 24, "align": "center", "baseline": "middle", "color": "#000"},
          "encoding": {
            "x": {"field": "col", "type": "quantitative"},
            "y": {"field": "row", "type": "quantitative"},
            "text": {"field": "txt"}
          }
        },
        {
          "data": {"name": "peaks"},
          "mark": {"type": "text", "font": "Liberation Serif", "fontWeight": "bold", "fontSize": 24, "align": "center", "baseline": "middle", "color": "#000"},
          "encoding": {
            "x": {"datum": 0, "type": "quantitative"},
            "y": {"field": "row", "type": "quantitative"},
            "text": {"field": "peak"}
          }
        },
        {
          "data": {"name": "values"},
          "mark": {"type": "text", "font": "Liberation Serif", "fontSize": 24, "align": "center", "baseline": "middle", "color": "#111"},
          "encoding": {
            "x": {"field": "col", "type": "quantitative"},
            "y": {"field": "row", "type": "quantitative"},
            "text": {"field": "val"}
          }
        },
        {
          "data": {"name": "peaks"},
          "mark": {"type": "text", "font": "Noto Sans CJK JP", "fontSize": 22, "align": "center", "baseline": "middle", "color": "#000", "text": "→", "dy": 3},
          "encoding": {
            "x": {"datum": 7, "type": "quantitative"},
            "y": {"field": "row", "type": "quantitative"}
          }
        }
      ]
    },
    {
      "layer": [
        {
          "data": {"values": [{"from": 0, "to": 2, "line": 0}]},
          "mark": {"type": "rule", "stroke": "#000", "strokeWidth": 2},
          "encoding": {
            "x": {"field": "from", "type": "quantitative", "scale": {"type": "linear", "domain": [0, 1, 2], "range": [0, 26, 1208], "nice": false, "zero": false}, "axis": null},
            "x2": {"field": "to"},
            "y": {"field": "line", "type": "quantitative", "scale": {"type": "linear", "domain": [0, 1, 3], "range": [1057, 1104, 1192], "nice": false, "zero": false}, "axis": null}
          }
        },
        {
          "data": {"name": "caption"},
          "mark": {"type": "text", "font": "Liberation Serif", "fontWeight": "bold", "fontSize": 20.8, "align": "left", "baseline": "middle", "color": "#000"},
          "encoding": {
            "x": {"datum": 1, "type": "quantitative"},
            "y": {"field": "line", "type": "quantitative"},
            "text": {"field": "txt"}
          }
        }
      ]
    }
  ],
  "resolve": {"scale": {"x": "independent", "y": "independent"}}
}
